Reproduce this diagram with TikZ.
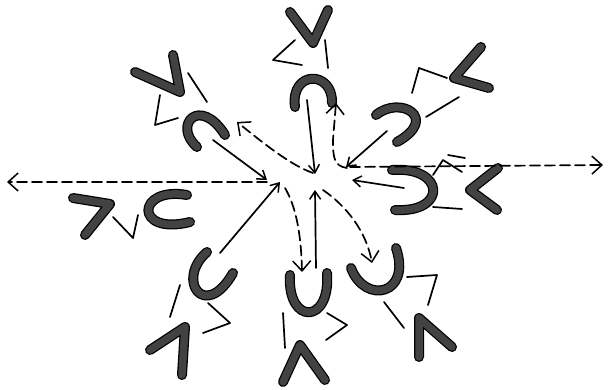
\documentclass[tikz,border=0pt]{standalone}
\usetikzlibrary{arrows.meta}
\begin{document}
\begin{tikzpicture}[x=1pt,y=-1pt,
  brush/.style={line width=7.5pt, draw=black!74, line cap=round, line join=round,
    preaction={draw=black, line width=10pt, line cap=round, line join=round}},
  thinline/.style={line width=1.7pt, line cap=round, line join=round},
  solidarrow/.style={thinline, -{Straight Barb[length=8pt,width=11pt,line width=1.5pt]}},
  dasharrow/.style={thinline, dash pattern=on 10pt off 5pt, -{Straight Barb[length=10pt,width=18pt,line width=1.5pt]}}]
\useasboundingbox (0,0) rectangle (608,390);
% ---------- coordinates ----------
\coordinate (nS) at (307,100);  \coordinate (nE) at (315,174);
\coordinate (neS) at (387,131); \coordinate (neE) at (346,167);
\coordinate (eS) at (404,188);  \coordinate (eE) at (352,180);
\coordinate (sS) at (316,268);  \coordinate (sE) at (315,190);
\coordinate (swS) at (220,253); \coordinate (swE) at (280,182);
\coordinate (nwS) at (213,140); \coordinate (nwE) at (267,180);
\coordinate (dN0) at (347,168); \coordinate (dN1) at (336,103);
\coordinate (dE0) at (350,167); \coordinate (dE1) at (603,165);
\coordinate (dW0) at (267,182); \coordinate (dW1) at (7,182);
\coordinate (dNW0) at (313,173); \coordinate (dNW1) at (237,122);
\coordinate (dSE0) at (323,190); \coordinate (dSE1) at (372,263);
\coordinate (dS0) at (285,188); \coordinate (dS1) at (302,272);
% ---------- North ----------
\draw[brush] (290,12) -- (313,43) -- (328,10);
\draw[thinline] (325,40) -- (328,68);
\draw[thinline] (295,40) -- (273,60) -- (302,65);
\draw[brush] (295,107) .. controls (290,70) and (333,70) .. (332,103);
% ---------- North-east ----------
\draw[brush] (481,47) -- (454,78) -- (489,88);
\draw[thinline] (412,93) -- (419,68) -- (447,78);
\draw[brush] (376,115) .. controls (400,95) and (440,118) .. (397,142);
\draw[thinline] (459,97) -- (426,117);
% ---------- East ----------
\draw[brush] (392,170) .. controls (445,166) and (448,213) .. (395,210);
\draw[brush] (498,168) -- (470,190) -- (497,210);
\draw[thinline] (433,175) -- (443,160) -- (462,172);
\draw[thinline] (448,155) -- (465,158);
\draw[thinline] (433,207) -- (462,209);
% ---------- South-east ----------
\draw[brush] (351,268) .. controls (365,305) and (412,295) .. (396,248);
\draw[thinline] (407,277) -- (437,275) -- (428,305);
\draw[thinline] (384,302) -- (404,328);
\draw[brush] (419,357) -- (419,318) -- (452,347);
% ---------- South ----------
\draw[brush] (290,275) .. controls (287,325) and (331,325) .. (327,273);
\draw[brush] (283,382) -- (300,345) -- (325,380);
\draw[thinline] (283,313) -- (285,348);
\draw[thinline] (327,313) -- (347,325) -- (326,340);
% ---------- South-west ----------
\draw[brush] (207,252) .. controls (175,280) and (205,322) .. (233,273);
\draw[thinline] (208,303) -- (230,323) -- (203,333);
\draw[thinline] (180,285) -- (170,317);
\draw[brush] (150,350) -- (185,327) -- (182,375);
% ---------- West ----------
\draw[brush] (73,198) -- (110,204) -- (85,235);
\draw[thinline] (113,217) -- (133,238) -- (138,215);
\draw[brush] (187,195) .. controls (136,186) and (134,236) .. (190,222);
% ---------- North-west ----------
\draw[brush] (135,72) -- (180,92) -- (173,55);
\draw[thinline] (188,73) -- (207,102);
\draw[thinline] (160,95) -- (155,125) -- (178,118);
\draw[brush] (197,147) .. controls (172,125) and (200,95) .. (225,135);
% ---------- inward solid arrows ----------
\draw[solidarrow] (nS) -- (nE);
\draw[solidarrow] (neS) -- (neE);
\draw[solidarrow] (eS) -- (eE);
\draw[solidarrow] (sS) -- (sE);
\draw[solidarrow] (swS) -- (swE);
\draw[solidarrow] (nwS) -- (nwE);
% ---------- outward dashed arrows ----------
\draw[dasharrow] (dN0) .. controls (334,166) and (333,158) .. (333,140) -- (dN1);
\draw[dasharrow] (dE0) -- (dE1);
\draw[dasharrow] (dW0) -- (dW1);
\draw[dasharrow] (dNW0) .. controls (290,165) and (262,142) .. (dNW1);
\draw[dasharrow] (dSE0) .. controls (345,205) and (366,230) .. (dSE1);
\draw[dasharrow] (dS0) .. controls (295,205) and (301,230) .. (dS1);
\end{tikzpicture}
\end{document}
